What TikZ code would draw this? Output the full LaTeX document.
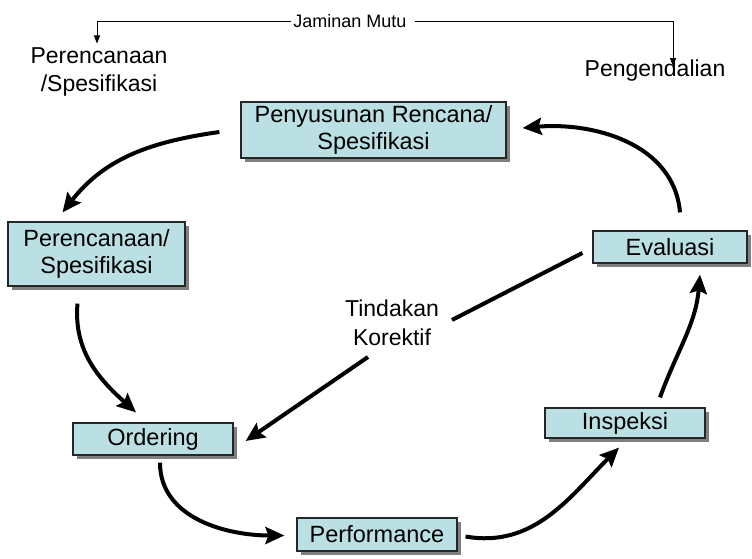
\documentclass[tikz,border=0pt]{standalone}
\usepackage{fontspec}
\setmainfont{Liberation Sans}
\usetikzlibrary{arrows.meta,shadows}
\definecolor{boxfill}{HTML}{BBE0E3}
\definecolor{shadowgray}{HTML}{808080}
\begin{document}
\begin{tikzpicture}[x=1pt,y=1pt,
  box/.style={draw=black!85, line width=1.2pt, fill=boxfill, align=center,
    inner sep=0pt, font=\fontsize{23.5}{27}\selectfont,
    drop shadow={shadow xshift=4pt, shadow yshift=-4pt, fill=shadowgray, opacity=1}},
  label/.style={align=center, inner sep=0pt, font=\fontsize{23}{28}\selectfont},
  thinarrow/.style={line width=0.8pt, -{Triangle[length=8pt,width=6pt]}},
  bigline/.style={line width=4pt},
  bigarrow/.style={line width=4pt, -{Stealth[length=19pt,width=17pt,inset=3pt]}}]
\useasboundingbox (0,0) rectangle (752,558);

% process boxes
\node[box, minimum width=265pt, minimum height=56pt] (pen) at (373.5,428)
  {Penyusunan Rencana/\\Spesifikasi};
\node[box, minimum width=177pt, minimum height=64pt] (per) at (96.5,304)
  {Perencanaan/\\Spesifikasi};
\node[box, minimum width=154pt, minimum height=32pt] (eva) at (670,311) {Evaluasi};
\node[box, minimum width=160pt, minimum height=32pt] (ord) at (153,119) {Ordering};
\node[box, minimum width=160pt, minimum height=33pt] (perf) at (377,23.5) {Performance};
\node[box, minimum width=160pt, minimum height=30pt] (insp) at (625,135) {Inspeksi};

% top labels
\node[inner sep=2pt, font=\fontsize{18}{20}\selectfont] (jm) at (350,537) {Jaminan Mutu};
\node[label] (plab) at (99,486) {Perencanaan\\/Spesifikasi};
\node[label] (peng) at (655,487) {Pengendalian};

\draw[thinarrow] (jm.west) -| ([xshift=-2pt,yshift=4pt]plab.north);
\draw[thinarrow] ([xshift=6pt]jm.east) -| ([xshift=18pt,yshift=-6pt]peng.north);

% cycle connectors
\draw[bigarrow] ([xshift=-21pt,yshift=-2pt]pen.west) to[out=188,in=52]
  ([xshift=-34pt,yshift=9pt]per.north);
\draw[bigarrow] ([xshift=-19pt,yshift=-17pt]per.south) to[out=265,in=138]
  ([xshift=-17pt,yshift=10pt]ord.north);
\draw[bigarrow] ([xshift=7pt,yshift=-7pt]ord.south) to[out=270,in=180]
  ([xshift=-12pt,yshift=-1pt]perf.west);
\draw[bigarrow] ([xshift=8pt,yshift=-2pt]perf.east) to[out=-10,in=225]
  ([xshift=-6pt,yshift=-9pt]insp.south);
\draw[bigarrow] ([xshift=35pt,yshift=10pt]insp.north) to[out=70,in=265]
  ([xshift=30pt,yshift=-11pt]eva.south);
\draw[bigarrow] ([xshift=10pt,yshift=18pt]eva.north) to[out=95,in=5]
  ([xshift=16pt,yshift=2pt]pen.east);

% corrective action
\node[label, font=\fontsize{23}{29}\selectfont] (tk) at (392,235) {Tindakan\\Korektif};
\coordinate (tkr) at (452,238);
\coordinate (tkb) at (368,201);
\draw[bigline] ([xshift=-10pt,yshift=-6pt]eva.west) -- (tkr);
\draw[bigarrow] (tkb) -- ([xshift=12pt,yshift=-2pt]ord.east);
\end{tikzpicture}
\end{document}
